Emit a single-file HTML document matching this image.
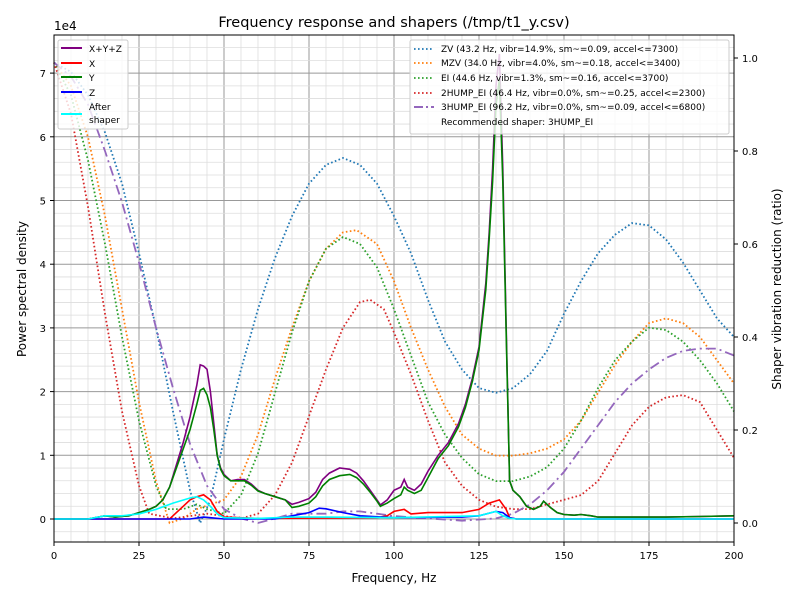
<!DOCTYPE html>
<html><head><meta charset="utf-8"><style>
body{margin:0;background:#fff}
text{font-family:"DejaVu Sans","Liberation Sans",sans-serif;fill:#000}
</style></head><body>
<svg id="s" width="800" height="600" xmlns="http://www.w3.org/2000/svg">
<rect width="800" height="600" fill="#fff"/>
<g id="grid"></g>
<g id="curves"></g>
<rect x="54" y="35" width="680" height="507" fill="none" stroke="#000" stroke-width="1"/>
<g id="ticks"></g>
<text x="394" y="27" font-size="14.5" text-anchor="middle">Frequency response and shapers (/tmp/t1_y.csv)</text>
<text x="394" y="582" font-size="12" text-anchor="middle">Frequency, Hz</text>
<text transform="translate(26,289) rotate(-90)" font-size="12" text-anchor="middle">Power spectral density</text>
<text transform="translate(781,289) rotate(-90)" font-size="12" text-anchor="middle">Shaper vibration reduction (ratio)</text>
<text x="54" y="30" font-size="12">1e4</text>
<g>
<rect x="58" y="40" width="70" height="89" fill="#fff" fill-opacity="0.8" stroke="#ccc" rx="2"/>
<line x1="61" y1="48" x2="82" y2="48" stroke="#800080" stroke-width="2"/><text x="89" y="52" font-size="9">X+Y+Z</text>
<line x1="61" y1="63" x2="82" y2="63" stroke="#f00" stroke-width="2"/><text x="89" y="67" font-size="9">X</text>
<line x1="61" y1="77" x2="82" y2="77" stroke="#008000" stroke-width="2"/><text x="89" y="81" font-size="9">Y</text>
<line x1="61" y1="92" x2="82" y2="92" stroke="#00f" stroke-width="2"/><text x="89" y="96" font-size="9">Z</text>
<line x1="61" y1="114" x2="82" y2="114" stroke="#0ff" stroke-width="2"/><text x="89" y="110" font-size="9">After</text><text x="89" y="123" font-size="9">shaper</text>
</g>
<g>
<rect x="410" y="40" width="319" height="94" fill="#fff" fill-opacity="0.8" stroke="#ccc" rx="2"/>
<line x1="414" y1="49" x2="434" y2="49" stroke="#1f77b4" stroke-width="1.8" stroke-dasharray="1.6,2.4"/><text x="441" y="52" font-size="9">ZV (43.2 Hz, vibr=14.9%, sm~=0.09, accel&lt;=7300)</text>
<line x1="414" y1="63" x2="434" y2="63" stroke="#ff7f0e" stroke-width="1.8" stroke-dasharray="1.6,2.4"/><text x="441" y="66" font-size="9">MZV (34.0 Hz, vibr=4.0%, sm~=0.18, accel&lt;=3400)</text>
<line x1="414" y1="78" x2="434" y2="78" stroke="#2ca02c" stroke-width="1.8" stroke-dasharray="1.6,2.4"/><text x="441" y="81" font-size="9">EI (44.6 Hz, vibr=1.3%, sm~=0.16, accel&lt;=3700)</text>
<line x1="414" y1="93" x2="434" y2="93" stroke="#d62728" stroke-width="1.8" stroke-dasharray="1.6,2.4"/><text x="441" y="96" font-size="9">2HUMP_EI (46.4 Hz, vibr=0.0%, sm~=0.25, accel&lt;=2300)</text>
<line x1="414" y1="107" x2="434" y2="107" stroke="#9467bd" stroke-width="2" stroke-dasharray="9,3,2,3"/><text x="441" y="110" font-size="9">3HUMP_EI (96.2 Hz, vibr=0.0%, sm~=0.09, accel&lt;=6800)</text>
<text x="441" y="125" font-size="9">Recommended shaper: 3HUMP_EI</text>
</g>
</svg>
<script>
var NS="http://www.w3.org/2000/svg";
function X(f){return 54+3.4*f}
function YL(v){return 519-63.7*v}
function YR(r){return 523-465*r}
function el(p,t,a){var e=document.createElementNS(NS,t);for(var k in a)e.setAttribute(k,a[k]);document.getElementById(p).appendChild(e);return e}
for(var f=0;f<=200;f+=5){var maj=f%25==0;el("grid","line",{x1:X(f),x2:X(f),y1:35,y2:542,stroke:maj?"#999":"#ddd","stroke-width":maj?1:0.8})}
for(var v=-0.2;v<=7.5;v+=0.2){var vv=Math.round(v*10)/10;var maj=Math.abs(vv-Math.round(vv))<0.01;var y=YL(vv);if(y<35||y>542)continue;el("grid","line",{x1:54,x2:734,y1:y,y2:y,stroke:maj?"#999":"#ddd","stroke-width":maj?1:0.8})}
for(var f=0;f<=200;f+=25){el("ticks","line",{x1:X(f),x2:X(f),y1:542,y2:546,stroke:"#000"});var t=el("ticks","text",{x:X(f),y:559,"font-size":10,"text-anchor":"middle"});t.textContent=f}
for(var v=0;v<=7;v++){el("ticks","line",{x1:50,x2:54,y1:YL(v),y2:YL(v),stroke:"#000"});var t=el("ticks","text",{x:46,y:YL(v)+4,"font-size":10,"text-anchor":"end"});t.textContent=v}
for(var r=0;r<=5;r++){var rv=r*0.2;el("ticks","line",{x1:734,x2:738,y1:YR(rv),y2:YR(rv),stroke:"#000"});var t=el("ticks","text",{x:742,y:YR(rv)+4,"font-size":10});t.textContent=rv.toFixed(1)}
function path(pts,fy,attrs){var d="";pts.forEach(function(p,i){d+=(i?"L":"M")+X(p[0]).toFixed(1)+","+fy(p[1]).toFixed(1)});attrs.d=d;attrs.fill="none";el("curves","path",attrs)}
var dot={"stroke-width":1.8,"stroke-dasharray":"1.6,2.4"};
function A(o,b){var r={};for(var k in o)r[k]=o[k];for(var k in b)r[k]=b[k];return r}
var ZV=[[0,.99],[5,.97],[10,.92],[15,.84],[20,.73],[25,.58],[30,.42],[35,.24],[40,.07],[43,0],[46,.05],[50,.18],[55,.33],[60,.46],[65,.57],[70,.66],[75,.73],[80,.77],[85,.785],[90,.77],[95,.73],[100,.66],[105,.58],[110,.48],[115,.39],[120,.33],[125,.29],[130,.28],[135,.29],[140,.32],[145,.37],[150,.45],[155,.52],[160,.58],[165,.62],[170,.645],[175,.64],[180,.61],[185,.56],[190,.5],[195,.44],[200,.4]];
var MZV=[[0,.99],[5,.94],[10,.83],[15,.66],[20,.46],[25,.26],[30,.09],[34,0],[38,.01],[42,.03],[46,.04],[50,.05],[55,.1],[60,.19],[65,.31],[70,.42],[75,.52],[80,.59],[85,.625],[89,.63],[95,.6],[100,.52],[105,.42],[110,.33],[115,.25],[120,.19],[125,.16],[130,.145],[135,.145],[140,.15],[145,.16],[150,.18],[155,.22],[160,.28],[165,.34],[170,.39],[175,.43],[180,.44],[185,.43],[190,.4],[195,.35],[200,.3]];
var EI=[[0,.99],[5,.92],[10,.78],[15,.6],[20,.4],[25,.22],[30,.08],[33,.03],[38,.03],[42,.04],[45,.03],[50,.02],[55,.06],[60,.15],[65,.28],[70,.41],[75,.52],[80,.59],[85,.615],[90,.6],[95,.55],[100,.46],[105,.36],[110,.26],[115,.19],[120,.14],[125,.105],[130,.09],[135,.09],[140,.1],[145,.12],[150,.16],[155,.22],[160,.29],[165,.35],[170,.39],[175,.42],[180,.415],[185,.39],[190,.35],[195,.3],[200,.24]];
var H2=[[0,.99],[5,.88],[10,.68],[15,.45],[20,.24],[25,.08],[28,.02],[35,.01],[45,.02],[55,.01],[60,.02],[65,.06],[70,.13],[75,.23],[80,.33],[85,.42],[90,.475],[93,.48],[97,.46],[100,.41],[105,.32],[110,.22],[115,.13],[120,.08],[125,.05],[130,.035],[135,.03],[140,.03],[145,.04],[150,.05],[155,.06],[160,.09],[165,.15],[170,.21],[175,.25],[180,.27],[185,.275],[190,.26],[195,.2],[200,.14]];
var H3=[[0,.99],[5,.96],[10,.9],[15,.8],[20,.69],[25,.56],[30,.42],[35,.29],[40,.17],[45,.08],[50,.03],[55,.01],[60,0],[65,.01],[70,.02],[80,.02],[85,.025],[90,.025],[95,.02],[100,.015],[110,.01],[120,.005],[130,.01],[135,.02],[140,.04],[145,.07],[150,.11],[155,.16],[160,.21],[165,.26],[170,.3],[175,.33],[180,.355],[185,.37],[190,.375],[195,.375],[200,.36]];
path(ZV,YR,A(dot,{stroke:"#1f77b4"}));
path(MZV,YR,A(dot,{stroke:"#ff7f0e"}));
path(EI,YR,A(dot,{stroke:"#2ca02c"}));
path(H2,YR,A(dot,{stroke:"#d62728"}));
path(H3,YR,{stroke:"#9467bd","stroke-width":1.8,"stroke-dasharray":"10,4,2,4"});
var tail=[[134,.6],[135,.45],[137,.35],[139,.2],[141,.15],[143,.2],[144,.28],[146,.18],[148,.1],[150,.07],[153,.06],[155,.07],[158,.05],[160,.03],[170,.03],[180,.03],[190,.04],[200,.05]];
var XYZ=[[0,0],[10,0],[15,.05],[18,.03],[22,.05],[25,.1],[28,.15],[30,.2],[32,.3],[34,.5],[36,.85],[38,1.2],[40,1.6],[42,2.1],[43,2.42],[44,2.4],[45,2.35],[46,2],[47,1.5],[48,1],[49,.8],[50,.7],[52,.6],[54,.62],[56,.62],[58,.55],[60,.45],[62,.4],[65,.35],[68,.3],[70,.23],[72,.26],[75,.32],[77,.42],[79,.62],[81,.72],[84,.8],[87,.78],[89,.72],[91,.6],[93,.45],[95,.3],[96,.22],[98,.3],[100,.45],[102,.5],[103,.62],[104,.5],[106,.45],[108,.55],[110,.75],[113,1],[116,1.2],[119,1.5],[121,1.8],[123,2.2],[125,2.7],[127,3.7],[128,4.5],[129,5.5],[130,6.8],[131,7.3],[132,5.5],[133,3]].concat(tail);
var Y=[[0,0],[10,0],[15,.05],[18,.03],[22,.05],[25,.1],[28,.15],[30,.2],[32,.3],[34,.5],[36,.8],[38,1.1],[40,1.4],[42,1.8],[43,2.02],[44,2.05],[45,1.95],[46,1.75],[47,1.4],[48,1],[49,.78],[50,.68],[52,.6],[54,.6],[56,.6],[58,.53],[60,.44],[62,.4],[65,.35],[68,.3],[70,.18],[72,.2],[75,.25],[77,.35],[79,.52],[81,.62],[84,.68],[87,.7],[89,.65],[91,.55],[93,.42],[95,.28],[96,.2],[98,.25],[100,.32],[102,.38],[103,.5],[104,.45],[106,.4],[108,.45],[110,.65],[113,.95],[116,1.15],[119,1.45],[121,1.75],[123,2.15],[125,2.65],[127,3.6],[128,4.4],[129,5.3],[130,6.5],[131,6.9],[132,5.3],[133,2.9]].concat(tail);
var Xs=[[0,0],[34,0],[36,.1],[38,.2],[40,.3],[42,.35],[44,.38],[46,.3],[48,.12],[50,.03],[60,.01],[95,.02],[98,.05],[100,.12],[103,.15],[105,.08],[110,.1],[120,.1],[125,.15],[128,.25],[131,.3],[133,.15],[134,.02],[136,0],[200,0]];
var Z=[[0,0],[40,0],[44,.03],[46,.02],[50,0],[65,0],[70,.05],[75,.1],[78,.17],[80,.16],[85,.1],[90,.05],[100,.02],[120,.03],[125,.05],[130,.12],[132,.1],[134,.02],[136,0],[200,0]];
var AS=[[0,0],[10,0],[15,.05],[20,.05],[25,.08],[30,.15],[35,.25],[40,.33],[42,.35],[44,.3],[46,.2],[48,.08],[50,.02],[60,.01],[70,.03],[80,.03],[100,.02],[125,.05],[130,.12],[132,.05],[134,.01],[136,0],[200,0]];
path(XYZ,YL,{stroke:"#800080","stroke-width":1.6});
path(Xs,YL,{stroke:"#f00","stroke-width":1.6});
path(Y,YL,{stroke:"#008000","stroke-width":1.6});
path(Z,YL,{stroke:"#00f","stroke-width":1.6});
path(AS,YL,{stroke:"#0ff","stroke-width":1.6});
</script>
</body></html>
